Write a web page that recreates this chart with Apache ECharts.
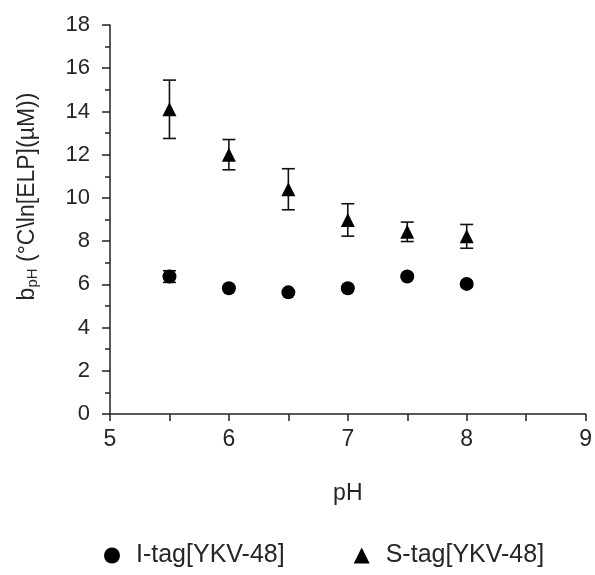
<!DOCTYPE html>
<html>
<head>
<meta charset="utf-8">
<script src="https://cdn.jsdelivr.net/npm/echarts@6/dist/echarts.min.js"></script>
<style>
    html, body { margin: 0; padding: 0; background: #fff; }
    #chart { width: 595px; height: 575px; }
</style>
</head>
<body>
<div id="chart"></div>
<script>
    // pH values and b_pH estimates
    let phValues = [5.5, 6, 6.5, 7, 7.5, 8];
    let iTag = [6.36, 5.82, 5.63, 5.82, 6.36, 6.02];
    let iTagErr = [0.27, 0, 0, 0, 0, 0];
    let sTag = [14.1, 12.0, 10.4, 8.98, 8.43, 8.22];
    let sTagErr = [1.35, 0.7, 0.95, 0.75, 0.45, 0.55];

    let chart = echarts.init(document.getElementById('chart'));

    function points(ys) {
        return phValues.map(function (x, i) { return [x, ys[i]]; });
    }

    function errRows(ys, errs) {
        return phValues.map(function (x, i) { return [x, ys[i] - errs[i], ys[i] + errs[i]]; });
    }

    function errorBar(params, api) {
        if (api.value(2) - api.value(1) <= 0) return null;
        let lo = api.coord([api.value(0), api.value(1)]);
        let hi = api.coord([api.value(0), api.value(2)]);
        let w = 6.5;
        let style = { stroke: '#111', lineWidth: 1.6 };
        return {
            type: 'group',
            children: [
                { type: 'line', shape: { x1: lo[0], y1: lo[1], x2: hi[0], y2: hi[1] }, style: style },
                { type: 'line', shape: { x1: lo[0] - w, y1: lo[1], x2: lo[0] + w, y2: lo[1] }, style: style },
                { type: 'line', shape: { x1: hi[0] - w, y1: hi[1], x2: hi[0] + w, y2: hi[1] }, style: style }
            ]
        };
    }

    let textColor = '#262626';
    let font = 'Liberation Sans, Arial, sans-serif';

    let option = {
        backgroundColor: '#fff',
        animation: false,
        textStyle: { fontFamily: font },
        grid: { left: 110, right: 7, top: 25, bottom: 161 },
        legend: {
            top: 538,
            left: 99,
            itemGap: 69,
            itemWidth: 16,
            itemHeight: 16,
            data: [
                { name: 'I-tag[YKV-48]', icon: 'circle' },
                { name: 'S-tag[YKV-48]', icon: 'triangle' }
            ],
            textStyle: { color: textColor, fontSize: 25, fontFamily: font, padding: [0, 0, 0, 11] }
        },
        xAxis: {
            type: 'value',
            min: 5,
            max: 9,
            interval: 1,
            name: 'pH',
            nameLocation: 'middle',
            nameGap: 68,
            nameTextStyle: { color: textColor, fontSize: 23 },
            axisLine: { lineStyle: { color: '#222', width: 1.5 } },
            axisTick: { show: true, length: 7, lineStyle: { color: '#222', width: 1.5 } },
            minorTick: { show: true, splitNumber: 2, length: 7, lineStyle: { color: '#222', width: 1.5 } },
            axisLabel: { color: textColor, fontSize: 23, margin: 14 },
            splitLine: { show: false }
        },
        yAxis: {
            type: 'value',
            min: 0,
            max: 18,
            interval: 2,
            name: '{n|b}{s|pH}{n| (°C\\ln[ELP](µM))}',
            nameLocation: 'middle',
            nameRotate: 90,
            nameGap: 70,
            nameTextStyle: {
                color: textColor,
                padding: [0, 0, 0, 46],
                rich: {
                    n: { fontSize: 23, color: textColor, fontFamily: font },
                    s: { fontSize: 15, color: textColor, fontFamily: font, padding: [10, 0, 0, 0] }
                }
            },
            axisLine: { show: true, lineStyle: { color: '#222', width: 1.5 } },
            axisTick: { show: true, length: 8, lineStyle: { color: '#222', width: 1.5 } },
            minorTick: { show: true, splitNumber: 2, length: 5, lineStyle: { color: '#222', width: 1.5 } },
            axisLabel: { color: textColor, fontSize: 22, margin: 20 },
            splitLine: { show: false }
        },
        series: [
            {
                name: 'I-tag[YKV-48]',
                type: 'scatter',
                symbol: 'circle',
                symbolSize: 14,
                itemStyle: { color: '#000', opacity: 1 },
                data: points(iTag),
                z: 3
            },
            {
                name: 'S-tag[YKV-48]',
                type: 'scatter',
                symbol: 'triangle',
                symbolSize: 14,
                itemStyle: { color: '#000', opacity: 1 },
                data: points(sTag),
                z: 3
            },
            {
                name: 'I-tag err',
                type: 'custom',
                renderItem: errorBar,
                encode: { x: 0, y: [1, 2] },
                data: errRows(iTag, iTagErr),
                z: 2
            },
            {
                name: 'S-tag err',
                type: 'custom',
                renderItem: errorBar,
                encode: { x: 0, y: [1, 2] },
                data: errRows(sTag, sTagErr),
                z: 2
            }
        ]
    };

    chart.setOption(option);
</script>
</body>
</html>
